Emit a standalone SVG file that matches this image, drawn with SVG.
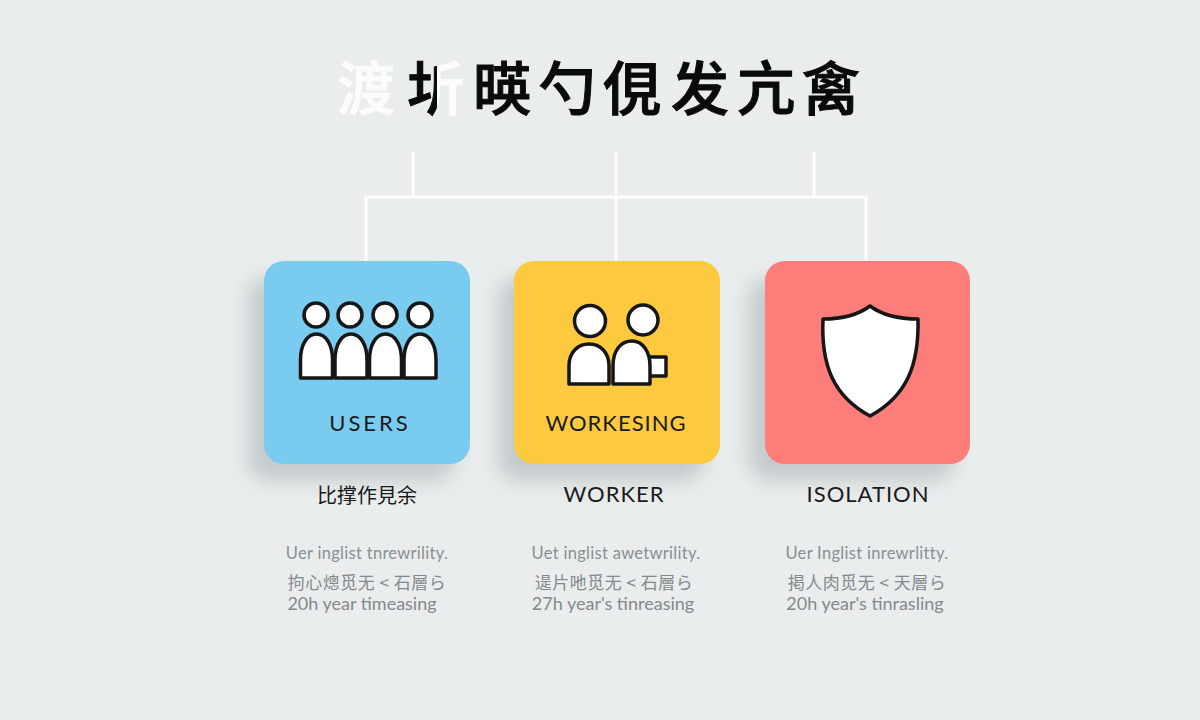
<svg xmlns="http://www.w3.org/2000/svg" width="1200" height="720" viewBox="0 0 1200 720">
<style>
.t{font-family:"Noto Sans CJK SC","Noto Sans CJK JP",sans-serif;font-size:58px;font-weight:500;fill:#0a0a0a;text-anchor:middle;stroke:#0a0a0a;stroke-width:1}
.w{fill:#fbfcfc;stroke:#fbfcfc}
.c{fill:none;stroke:#fbfcfc;stroke-width:3}
.s{fill:#b4bbbe;opacity:.7;filter:url(#b)}
.i{fill:#fff;stroke:#161616;stroke-width:3.500;stroke-linejoin:round}
.l{font-family:"Lato","Noto Sans",sans-serif;font-size:22px;fill:#1a1a1a;text-anchor:middle;letter-spacing:1px}
.h{font-family:"Noto Sans CJK SC",sans-serif;font-size:20px;fill:#1a1a1a;text-anchor:middle}
.d{font-family:"Lato","Noto Sans",sans-serif;font-size:16.500px;fill:#8a8f92;text-anchor:middle;letter-spacing:.3px}
.e{font-family:"Noto Sans CJK SC",sans-serif;font-size:17px;fill:#85898c;text-anchor:middle;letter-spacing:.5px}
.y{font-family:"Lato","Noto Sans",sans-serif;font-size:18px;fill:#85898c;text-anchor:middle}
</style>
<defs>
<filter id="b" x="-30%" y="-30%" width="160%" height="160%"><feGaussianBlur stdDeviation="10"/></filter>
<linearGradient id="g" x1="0" y1="0" x2="1" y2="0"><stop offset=".52" stop-color="#0a0a0a"/><stop offset=".52" stop-color="#fbfcfc"/></linearGradient>
<path id="body" d="M0 0V-18C0-34 7-44 16-44S32-34 32-18V0Z"/>
</defs>
<rect width="1200" height="720" fill="#eaeded"/>
<g id="title">
<text class="t w" x="366" y="110">渡</text>
<text class="t" x="436" y="110" style="fill:url(#g);stroke:url(#g)">圻</text>
<text class="t" x="502" y="110">暎</text>
<text class="t" x="567" y="110">勺</text>
<text class="t" x="632" y="110">俔</text>
<text class="t" x="700" y="110">发</text>
<text class="t" x="766" y="110">亢</text>
<text class="t" x="831" y="110">禽</text>
</g>
<g id="connectors">
<path class="c" d="M413 152V197M616 152V261M814 152V197M366 261V197H866V261"/>
</g>
<g id="users">
<rect class="s" x="248" y="278" width="206" height="203" rx="20"/>
<rect x="264" y="261" width="206" height="203" rx="20" fill="#79cbf0"/>
<circle class="i" cx="316" cy="315" r="12"/><circle class="i" cx="350" cy="315" r="12"/><circle class="i" cx="385" cy="315" r="12"/><circle class="i" cx="420" cy="315" r="12"/>
<use class="i" href="#body" x="300.500" y="378"/><use class="i" href="#body" x="335" y="378"/><use class="i" href="#body" x="369.500" y="378"/><use class="i" href="#body" x="404" y="378"/>
<text class="l" x="370" y="431" style="letter-spacing:3px">USERS</text>
<text class="h" x="367" y="503">比撑作見余</text>
<text class="d" x="367" y="559">Uer inglist tnrewrility.</text>
<text class="e" x="367" y="589">拘心熜觅无 &lt; 石層ら</text>
<text class="y" x="362" y="610">20h year timeasing</text>
</g>
<g id="worker">
<rect class="s" x="498" y="278" width="206" height="203" rx="20"/>
<rect x="514" y="261" width="206" height="203" rx="20" fill="#fdc93e"/>
<circle class="i" cx="590" cy="321" r="15.500"/><circle class="i" cx="643" cy="320" r="15"/>
<rect class="i" x="648" y="357" width="18" height="19"/>
<path class="i" d="M569 384V366C569 352 578 344 589 344S609 352 609 366V384Z"/>
<path class="i" d="M613 384V366C613 350 621 341 632 341S650 352 650 366V384Z"/>
<text class="l" x="616" y="431">WORKESING</text>
<text class="l" x="614" y="502">WORKER</text>
<text class="d" x="616" y="559">Uet inglist awetwrility.</text>
<text class="e" x="614" y="589">遈片吔觅无 &lt; 石層ら</text>
<text class="y" x="613" y="610">27h year's tinreasing</text>
</g>
<g id="isolation">
<rect class="s" x="749" y="278" width="205" height="203" rx="20"/>
<rect x="765" y="261" width="205" height="203" rx="20" fill="#fd7d7a"/>
<path class="i" d="M870 306C858 315 843 319 823 319C821 365 833 396 870 416C907 396 919 365 918 319C898 319 882 315 870 306Z"/>
<text class="l" x="868" y="502">ISOLATION</text>
<text class="d" x="867" y="559">Uer Inglist inrewrlitty.</text>
<text class="e" x="867" y="589">掲人肉觅无 &lt; 天層ら</text>
<text class="y" x="865" y="610">20h year's tinrasling</text>
</g>
</svg>
